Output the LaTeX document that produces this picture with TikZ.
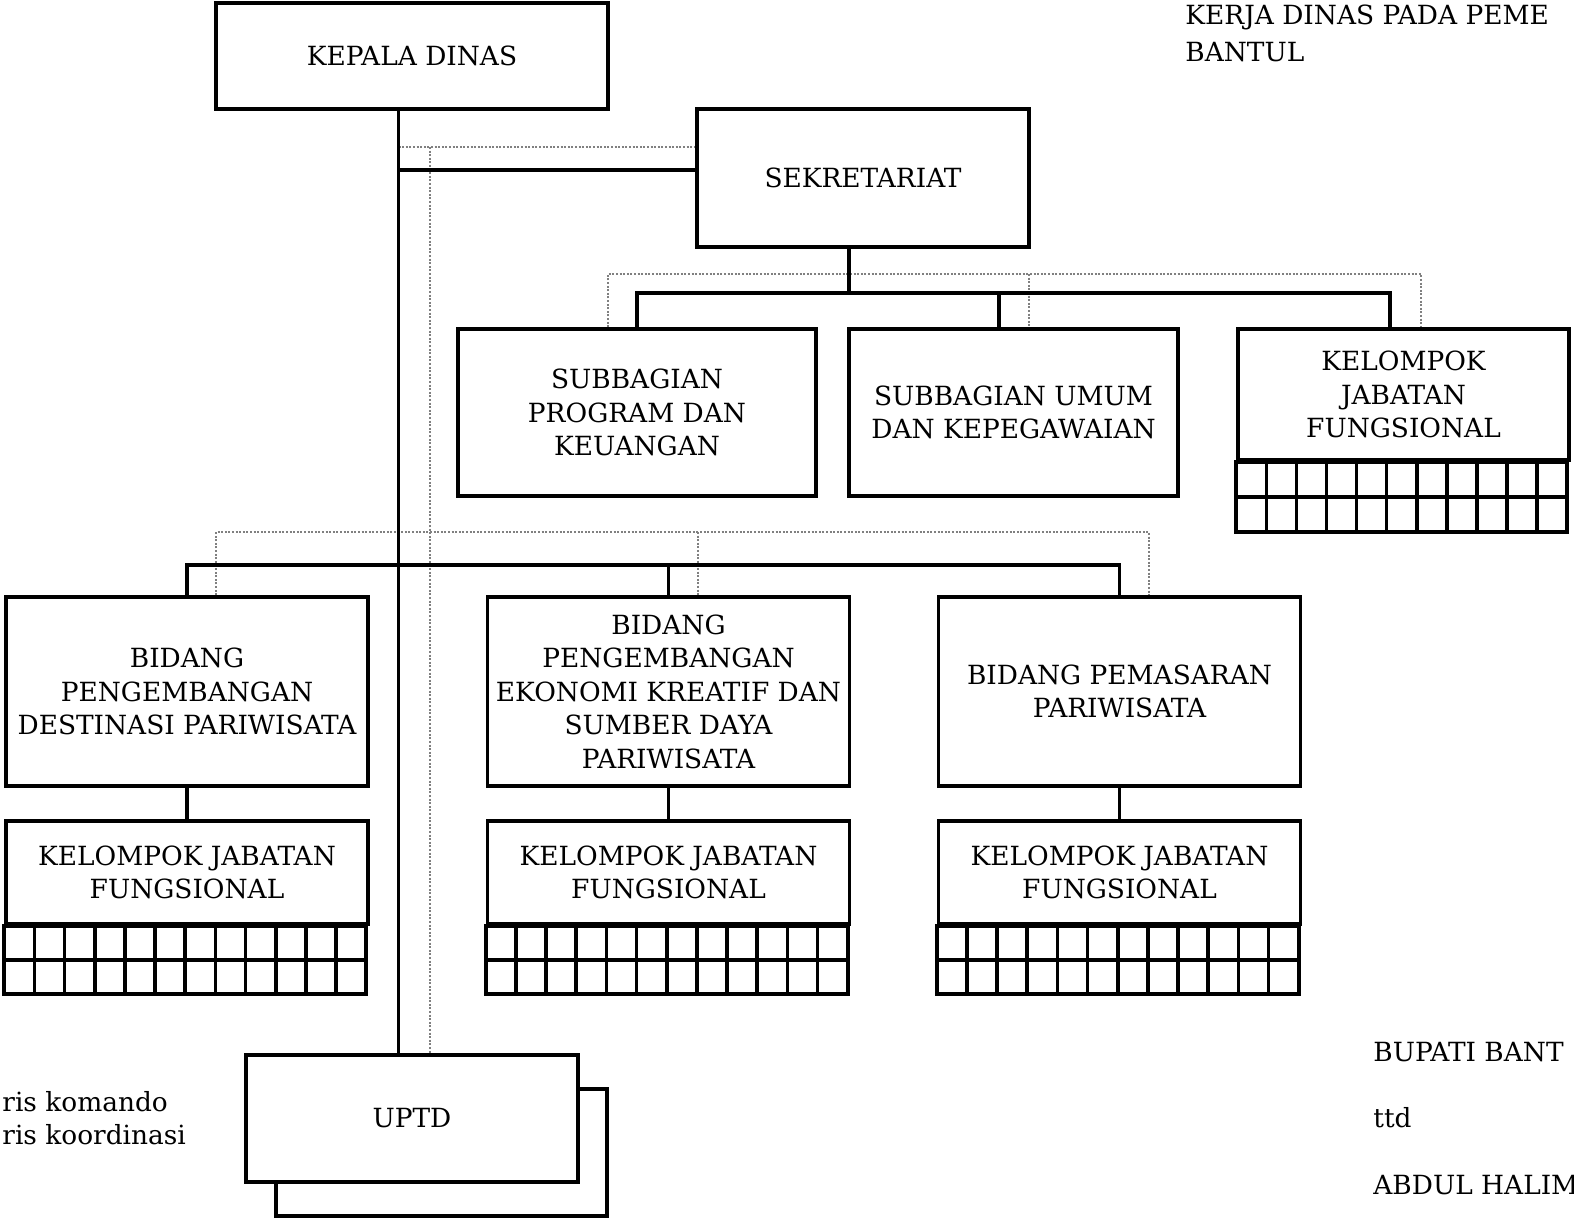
\documentclass[tikz,border=0pt]{standalone}
\usepackage{fontspec}
\setmainfont{DejaVu Serif}
\begin{document}
\begin{tikzpicture}[x=0.5pt,y=-0.5pt,
  box/.style={draw, line width=1.8pt, fill=white, align=center, inner sep=0pt,
    font=\fontsize{13.2}{16.75}\selectfont},
  cmd/.style={line width=1.8pt},
  crd/.style={line width=1pt, black!50, dash pattern=on 1pt off 0.8pt},
  lbl/.style={anchor=base west, inner sep=0pt, font=\fontsize{13.2}{16.75}\selectfont}]
\useasboundingbox (0,0) rectangle (1574,1218);
\fill[white] (0,0) rectangle (1574,1218);

% boxes
\node[box, minimum width=196pt, minimum height=53pt] (kepala) at (412,56) {KEPALA DINAS};
\node[box, minimum width=166pt, minimum height=69pt] (sekr) at (863,178) {SEKRETARIAT};
\node[box, minimum width=179pt, minimum height=83.5pt] (sprog) at (637,412.5) {SUBBAGIAN\\PROGRAM DAN\\KEUANGAN};
\node[box, minimum width=164.5pt, minimum height=83.5pt] (sumum) at (1013.5,412.5) {SUBBAGIAN UMUM\\DAN KEPEGAWAIAN};
\node[box, minimum width=165.5pt, minimum height=65.5pt] (kjfT) at (1403.5,394.5) {KELOMPOK\\JABATAN\\FUNGSIONAL};

\node[box, minimum width=181pt, minimum height=94.5pt] (bidL) at (187,691.5) {BIDANG\\PENGEMBANGAN\\DESTINASI PARIWISATA};
\node[box, minimum width=181pt, minimum height=94.5pt] (bidM) at (668.5,691.5) {BIDANG\\PENGEMBANGAN\\EKONOMI KREATIF DAN\\SUMBER DAYA\\PARIWISATA};
\node[box, minimum width=181pt, minimum height=94.5pt] (bidR) at (1119.5,691.5) {BIDANG PEMASARAN\\PARIWISATA};

\node[box, minimum width=181pt, minimum height=51.5pt] (kjfL) at (187,872.5) {KELOMPOK JABATAN\\FUNGSIONAL};
\node[box, minimum width=181pt, minimum height=51.5pt] (kjfM) at (668.5,872.5) {KELOMPOK JABATAN\\FUNGSIONAL};
\node[box, minimum width=181pt, minimum height=51.5pt] (kjfR) at (1119.5,872.5) {KELOMPOK JABATAN\\FUNGSIONAL};

\node[box, minimum width=165.5pt, minimum height=63.5pt] (uptdb) at (441.5,1152.5) {};
\node[box, minimum width=166pt, minimum height=63.5pt] (uptd) at (412,1118.5) {UPTD};

% grids under the functional groups
\foreach \n/\k/\w/\h in {kjfT/11/30.09/35, kjfL/12/30.17/34, kjfM/12/30.17/34, kjfR/12/30.17/34} {
  \pgfmathtruncatemacro\km{\k-1}
  \draw[cmd] (\n.south west) rectangle ++(\k*\w, 2*\h);
  \draw[cmd] (\n.south west) ++(0,\h) -- ++(\k*\w,0);
  \foreach \i in {1,...,\km} {
    \draw[cmd] (\n.south west) ++(\i*\w,0) -- ++(0,2*\h);
  }
}

% helper coordinates
\coordinate (vx) at (398.6,0);
\coordinate (dx) at (429.7,0);
\coordinate (h1) at (0,170);
\coordinate (d1) at (0,147);
\coordinate (sx) at (849,0);
\coordinate (h2) at (0,293);
\coordinate (d2) at (0,274);
\coordinate (h3) at (0,565);
\coordinate (d3) at (0,532);
\coordinate (dpx) at (608,0);
\coordinate (dux) at (1029,0);
\coordinate (dkx) at (1421,0);
\coordinate (sux) at (999,0);
\coordinate (skx) at (1390,0);
\coordinate (dlx) at (216,0);
\coordinate (dmx) at (698,0);
\coordinate (drx) at (1149,0);

% coordination lines
\draw[crd] (vx |- d1) -- (sekr.west |- d1);
\draw[crd] (dx |- d1) -- (uptd.north -| dx);
\draw[crd] (sprog.north -| dpx) -- (dpx |- d2) -- (dkx |- d2) -- (kjfT.north -| dkx);
\draw[crd] (dux |- d2) -- (sumum.north -| dux);
\draw[crd] (bidL.north -| dlx) -- (dlx |- d3) -- (drx |- d3) -- (bidR.north -| drx);
\draw[crd] (dmx |- d3) -- (bidM.north -| dmx);

% command lines
\draw[cmd] (kepala.south -| vx) -- (uptd.north -| vx);
\draw[cmd] (vx |- h1) -- (sekr.west |- h1);
\draw[cmd] (sekr.south -| sx) -- (sx |- h2);
\draw[cmd] (sprog.north) -- (sprog.north |- h2) -- (skx |- h2) -- (kjfT.north -| skx);
\draw[cmd] (sux |- h2) -- (sumum.north -| sux);
\draw[cmd] (bidL.north) -- (bidL.north |- h3) -- (bidR.north |- h3) -- (bidR.north);
\draw[cmd] (bidM.north) -- (bidM.north |- h3);
\draw[cmd] (bidL.south) -- (kjfL.north);
\draw[cmd] (bidM.south) -- (kjfM.north);
\draw[cmd] (bidR.south) -- (kjfR.north);

% texts
\node[lbl] (leg1) at (2,1111) {ris komando};
\node[lbl] (leg2) at (2,1144) {ris koordinasi};
\node[lbl] (t1) at (1185,25) {KERJA DINAS PADA PEME};
\node[lbl] (t2) at (1185,62) {BANTUL};
\node[lbl] (b1) at (1373,1061) {BUPATI BANT};
\node[lbl] (b2) at (1373,1127) {ttd};
\node[lbl] (b3) at (1373,1194) {ABDUL HALIM};
\end{tikzpicture}
\end{document}
